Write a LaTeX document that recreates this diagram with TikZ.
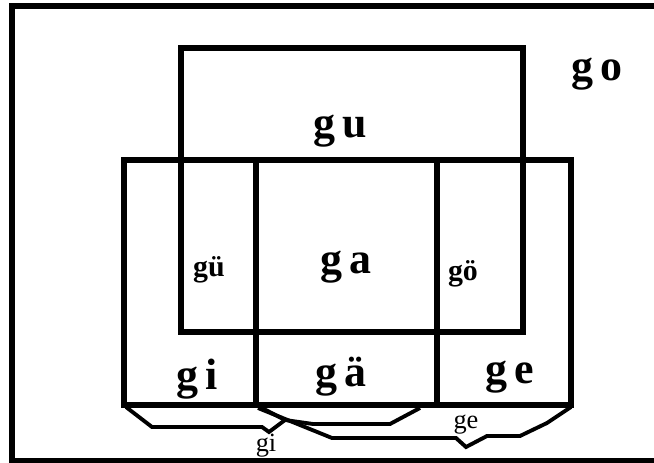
\documentclass[tikz,border=0pt]{standalone}
\usepackage{fontspec}
\setmainfont{Liberation Serif}
\usepackage{tikz}

\tikzset{
  box/.style={line width=3.2pt},
  brace/.style={line width=2.2pt, line join=miter},
  big/.style={font=\fontsize{25}{27}\selectfont\bfseries},
  mid/.style={font=\fontsize{17}{19}\selectfont\bfseries},
  tiny/.style={font=\fontsize{15}{16}\selectfont}
}

\begin{document}
\begin{tikzpicture}[x=0.02cm,y=-0.02cm]
  \useasboundingbox (0,0) rectangle (654,463);
  \clip (0,0) rectangle (654,463);
  % outer frame, cut off on the right
  \draw[line width=3.6pt] (12,6) rectangle (680,461);
  % the boxes
  \draw[box] (181,48) rectangle (523,332);
  \draw[box] (124,160) rectangle (256,405);
  \draw[box] (256,160) rectangle (437,405);
  \draw[box] (437,160) rectangle (571,405);
  % labels
  \node[big] (gu) at (340,131) {g\,u};
  \node[big] (go) at (597,74) {g\,o};
  \node[mid] (guu) at (209,270) {gü};
  \node[big] (ga) at (346,267) {g\,a};
  \node[mid] (goo) at (463,274) {gö};
  \node[big] (gi) at (197,379) {g\,i};
  \node[big] (gaa) at (341,377) {g\,ä};
  \node[big] (ge) at (510,377) {g\,e};
  % brackets under the boxes
  \draw[brace] (126,407) -- (152,427) -- (262,427) -- (269,432) -- (285,420);
  \draw[brace] (262,408) -- (285,420) -- (313,424) -- (390,424) -- (420,408);
  \draw[brace] (258,408) -- (332,438) -- (456,438) -- (466,447) -- (487,436)
    -- (520,436) -- (547,423) -- (571,407);
  \node[tiny] (gilbl) at (266,446) {gi};
  \node[tiny] (gelbl) at (466,425) {ge};
\end{tikzpicture}
\end{document}
